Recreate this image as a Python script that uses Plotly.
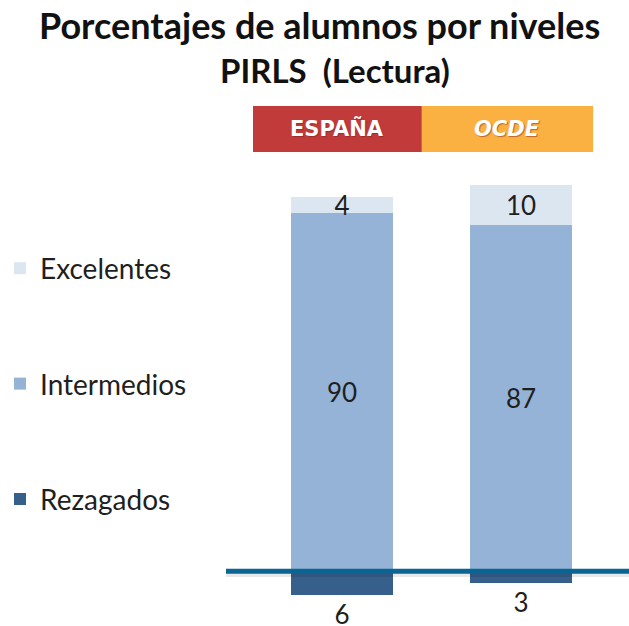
import plotly.graph_objects as go

paises = ["España", "OCDE"]
rezagados = [6, 3]
intermedios = [90, 87]
excelentes = [4, 10]

x_pos = [0, 1]
font_family = "Lato"
text_color = "#1f1f1f"

fig = go.Figure()
fig.add_trace(go.Bar(
    x=x_pos, y=[-v for v in rezagados], name="Rezagados", legendgroup="r", legendrank=3,
    marker=dict(color="#375f8b", line=dict(width=0)),
    text=[str(v) for v in rezagados], textposition="outside", constraintext="none", textangle=0,
    cliponaxis=False, textfont=dict(size=26, family=font_family, color=text_color),
))
fig.add_trace(go.Bar(
    x=x_pos, y=intermedios, name="Intermedios", legendgroup="i", legendrank=2,
    marker=dict(color="#95b3d7", line=dict(width=0)),
    text=[str(v) for v in intermedios], textposition="inside", insidetextanchor="middle",
    constraintext="none", textangle=0, textfont=dict(size=26, family=font_family, color=text_color),
))
fig.add_trace(go.Bar(
    x=x_pos, y=excelentes, name="Excelentes", legendgroup="e", legendrank=1,
    marker=dict(color="#dce6f1", line=dict(width=0)),
    text=[str(v) for v in excelentes], textposition="inside", insidetextanchor="middle",
    constraintext="none", textangle=0, textfont=dict(size=26, family=font_family, color=text_color),
))

# baseline with a soft shadow
fig.add_shape(type="line", xref="paper", x0=0, x1=1, yref="y", y0=-0.8, y1=-0.8,
              line=dict(color="rgba(0,0,0,0.09)", width=5), layer="above")
fig.add_shape(type="line", xref="paper", x0=0, x1=1, yref="y", y0=0, y1=0,
              line=dict(color="#0b6592", width=5), layer="above")

# header boxes
headers = [("ESPAÑA", "#c23b3b", 0.067, 0.486, "normal"), ("OCDE", "#fbb141", 0.486, 0.911, "italic")]
for label, color, x0, x1, style in headers:
    fig.add_shape(type="rect", xref="paper", yref="paper", x0=x0, x1=x1, y0=1.0467, y1=1.1489,
                  fillcolor=color, line=dict(width=0))
    fig.add_annotation(xref="paper", yref="paper", x=(x0 + x1) / 2, y=1.0978, text=label,
                       showarrow=False, xanchor="center", yanchor="middle",
                       font=dict(size=21, family="DejaVu Sans", color="white", weight="bold", style=style,
                                 shadow="1px 1px 1px rgba(120,30,30,0.5)"))

# title, two lines
title_lines = [("Porcentajes de alumnos por niveles", 0.233, 1.329, 36),
               ("PIRLS  (Lectura)", 0.27, 1.229, 33)]
for txt, tx, ty, size in title_lines:
    fig.add_annotation(xref="paper", yref="paper", x=tx, y=ty, text=txt, showarrow=False,
                       xanchor="center", yanchor="middle",
                       font=dict(size=size, family=font_family, color="#111111", weight="bold"))

fig.update_layout(
    barmode="relative", bargap=0,
    xaxis=dict(range=[-0.648, 1.603], visible=False),
    yaxis=dict(range=[-13, 100], visible=False),
    showlegend=True,
    legend=dict(x=0, y=0.611, xref="container", yref="container", xanchor="left", yanchor="top",
                traceorder="grouped", tracegroupgap=76,
                font=dict(size=28, family=font_family, color=text_color),
                itemwidth=30),
    paper_bgcolor="white", plot_bgcolor="white",
    margin=dict(t=173, b=3, l=226, r=0),
    width=629, height=626,
)
fig.update_traces(width=0.57)

fig.write_html("out.html", config={"displayModeBar": False},
               post_script="document.body.style.margin='0';")
